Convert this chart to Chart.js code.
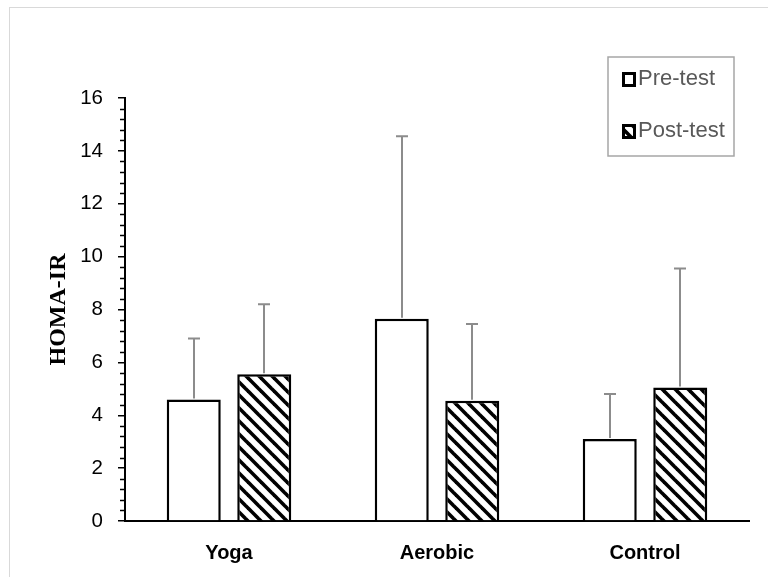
<!DOCTYPE html>
<html>
<head>
<meta charset="utf-8">
<script src="https://cdn.jsdelivr.net/npm/chart.js@4/dist/chart.umd.min.js"></script>
<style>
  html, body { margin: 0; padding: 0; background: #fff; }
  #wrap { width: 768px; height: 577px; }
</style>
</head>
<body>
<div id="wrap"><canvas id="c" width="768" height="577"></canvas></div>
<script>
// Groups and HOMA-IR means (with SD shown as upward error bars)
const groups = ['Yoga', 'Aerobic', 'Control'];
const preTest = [4.6, 7.65, 3.1];
const preTestSD = [2.3, 6.9, 1.7];
const postTest = [5.55, 4.55, 5.05];
const postTestSD = [2.65, 2.9, 4.5];
const yTicks = [0, 2, 4, 6, 8, 10, 12, 14, 16];
const seriesNames = ['Pre-test', 'Post-test'];

// Diagonal hatch fill (top-left to bottom-right stripes)
function makeHatch() {
  const p = 13;
  const tile = document.createElement('canvas');
  tile.width = p; tile.height = p;
  const t = tile.getContext('2d');
  t.fillStyle = '#fff';
  t.fillRect(0, 0, p, p);
  t.strokeStyle = '#000';
  t.lineWidth = 3.6;
  [-p, 0, p].forEach(k => {
    t.beginPath();
    t.moveTo(k - 2, -2);
    t.lineTo(k + p + 2, p + 2);
    t.stroke();
  });
  return document.createElement('canvas').getContext('2d').createPattern(tile, 'repeat');
}
const hatch = makeHatch();

// Light frame around the whole figure
const framePlugin = {
  id: 'frame',
  beforeDraw(chart) {
    const ctx = chart.ctx;
    ctx.save();
    ctx.fillStyle = '#fff';
    ctx.fillRect(0, 0, chart.width, chart.height);
    ctx.strokeStyle = '#d9d9d9';
    ctx.lineWidth = 1;
    ctx.strokeRect(9.5, 7.5, chart.width + 20, chart.height + 20);
    ctx.restore();
  }
};

// Minor tick marks on the value axis
const minorTicksPlugin = {
  id: 'minorTicks',
  afterDraw(chart) {
    const y = chart.scales.y;
    const ctx = chart.ctx;
    const x0 = chart.chartArea.left;
    ctx.save();
    ctx.strokeStyle = '#000';
    ctx.lineWidth = 1.5;
    const steps = Math.round((yTicks[yTicks.length - 1] - yTicks[0]) / 0.4);
    for (let i = 0; i <= steps; i++) {
      if (i % 5 === 0) continue;
      const py = Math.round(y.getPixelForValue(i * 0.4)) + 0.5;
      ctx.beginPath();
      ctx.moveTo(x0 - 5, py);
      ctx.lineTo(x0, py);
      ctx.stroke();
    }
    ctx.restore();
  }
};

// Upward SD error bars
const errorBarsPlugin = {
  id: 'errorBars',
  afterDatasetsDraw(chart) {
    const ctx = chart.ctx;
    const yScale = chart.scales.y;
    ctx.save();
    ctx.strokeStyle = '#8c8c8c';
    ctx.lineWidth = 2;
    chart.data.datasets.forEach((ds, i) => {
      const meta = chart.getDatasetMeta(i);
      meta.data.forEach((bar, j) => {
        const top = yScale.getPixelForValue(ds.data[j] + ds.sd[j]);
        const x = Math.round(bar.x);
        ctx.beginPath();
        ctx.moveTo(x, bar.y - 1);
        ctx.lineTo(x, top);
        ctx.moveTo(x - 6, top);
        ctx.lineTo(x + 6, top);
        ctx.stroke();
      });
    });
    ctx.restore();
  }
};

// Boxed legend in the upper right
const boxLegendPlugin = {
  id: 'boxLegend',
  afterDraw(chart) {
    const ctx = chart.ctx;
    ctx.save();
    ctx.fillStyle = '#fff';
    ctx.fillRect(608, 57, 126, 99);
    ctx.strokeStyle = '#a6a6a6';
    ctx.lineWidth = 1.5;
    ctx.strokeRect(608, 57, 126, 99);
    const rows = [79, 131];
    chart.data.datasets.forEach((ds, i) => {
      const cy = rows[i];
      ctx.fillStyle = ds.backgroundColor;
      ctx.fillRect(622, cy - 7, 14, 15);
      ctx.strokeStyle = '#000';
      ctx.lineWidth = 3;
      ctx.strokeRect(623.5, cy - 5.5, 11, 12);
      ctx.fillStyle = '#595959';
      ctx.font = '22px "Liberation Sans", Arial, sans-serif';
      ctx.textBaseline = 'middle';
      ctx.textAlign = 'left';
      ctx.fillText(ds.label, 638, cy);
    });
    ctx.restore();
  }
};

new Chart(document.getElementById('c'), {
  type: 'bar',
  data: {
    labels: groups,
    datasets: [
      { label: seriesNames[0], data: preTest, sd: preTestSD, backgroundColor: '#ffffff',
        borderColor: '#000', borderWidth: 2.5 },
      { label: seriesNames[1], data: postTest, sd: postTestSD, backgroundColor: hatch,
        borderColor: '#000', borderWidth: 2.5 }
    ]
  },
  options: {
    responsive: false,
    animation: false,
    devicePixelRatio: 1,
    layout: { padding: { top: 98, right: 19, bottom: 0, left: 0 } },
    categoryPercentage: 0.678,
    barPercentage: 0.766,
    plugins: { legend: { display: false }, tooltip: { enabled: false } },
    scales: {
      x: {
        grid: { display: false, drawTicks: false },
        border: { display: true, color: '#000', width: 2 },
        ticks: { color: '#000', padding: 20,
          font: { family: '"Liberation Sans", Arial, sans-serif', size: 20, weight: 'bold' } },
        afterFit(scale) { scale.height = 56; }
      },
      y: {
        min: yTicks[0],
        max: yTicks[yTicks.length - 1],
        afterBuildTicks(scale) { scale.ticks = yTicks.map(v => ({ value: v })); },
        grid: { drawOnChartArea: false, drawTicks: true, tickLength: 7, color: '#000', lineWidth: 1.5 },
        border: { display: true, color: '#000', width: 2 },
        ticks: { color: '#000', padding: 15,
          font: { family: '"Liberation Sans", Arial, sans-serif', size: 20.5 } },
        title: {
          display: true, text: 'HOMA-IR', color: '#000',
          padding: { top: 44, bottom: 0 },
          font: { family: '"Liberation Serif", "Times New Roman", serif', size: 24, weight: 'bold' }
        },
        afterFit(scale) { scale.width = 125; }
      }
    }
  },
  plugins: [framePlugin, minorTicksPlugin, errorBarsPlugin, boxLegendPlugin]
});
</script>
</body>
</html>
